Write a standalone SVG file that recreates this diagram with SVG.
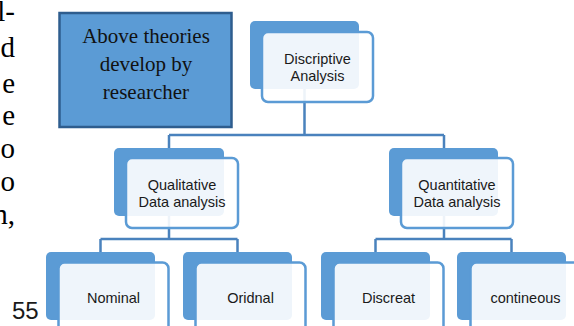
<svg xmlns="http://www.w3.org/2000/svg" width="574" height="326" viewBox="0 0 574 326">
  <style>
    .para { font-family: "Liberation Serif", "Times New Roman", serif; font-size: 29px; fill: #000; }
    .note { font-family: "Liberation Serif", "Times New Roman", serif; font-size: 21px; fill: #111; text-anchor: middle; }
    .lbl { font-family: "Liberation Sans", Arial, sans-serif; font-size: 14.5px; fill: #1a1a1a; text-anchor: middle; }
    .back { fill: #5b9bd5; }
    .front { fill: #ffffff; fill-opacity: 0.9; stroke: #5b9bd5; stroke-width: 2.5; }
    .conn { fill: none; stroke: #4a82bd; stroke-width: 2.5; }
  </style>

  <rect width="574" height="326" fill="#ffffff"/>

  <!-- right-hand edge of the surrounding paragraph -->
  <g id="paragraph" class="para" text-anchor="end">
    <text x="15" y="21">l-</text>
    <text x="15" y="57">d</text>
    <text x="15" y="93">e</text>
    <text x="15" y="125">e</text>
    <text x="15" y="158">o</text>
    <text x="15" y="191">o</text>
    <text x="15" y="224">n,</text>
  </g>
  <text id="page-number" x="12" y="319" font-family="'Liberation Sans', Arial, sans-serif" font-size="24" fill="#1a1a1a">55</text>

  <!-- callout box -->
  <g id="note">
    <rect x="59.5" y="13" width="172" height="114" fill="#5b9bd5" stroke="#2e5d8e" stroke-width="2.5"/>
    <text class="note" x="146" y="43">Above theories</text>
    <text class="note" x="146" y="71">develop by</text>
    <text class="note" x="146" y="99">researcher</text>
  </g>

  <!-- connectors (drawn first so node cards sit over them) -->
  <g id="connectors" class="conn">
    <path d="M304.5 89 V135 M169 135 H444 M169 135 V148 M444 135 V148"/>
    <path d="M169 216 V239 M100.5 239 H237.5 M100.5 239 V252 M237.5 239 V252"/>
    <path d="M444 216 V239 M375.5 239 H511.5 M375.5 239 V252 M511.5 239 V252"/>
  </g>

  <!-- level 1 -->
  <g id="descriptive">
    <rect class="back" x="250" y="21" width="109" height="68" rx="5"/>
    <rect class="front" x="262" y="32" width="111" height="70" rx="6"/>
    <text class="lbl" x="317.5" y="64">Discriptive</text>
    <text class="lbl" x="317.5" y="81">Analysis</text>
  </g>

  <!-- level 2 -->
  <g id="qualitative">
    <rect class="back" x="114" y="148" width="110" height="68" rx="5"/>
    <rect class="front" x="126" y="158" width="112" height="70" rx="6"/>
    <text class="lbl" x="182" y="190">Qualitative</text>
    <text class="lbl" x="182" y="207">Data analysis</text>
  </g>
  <g id="quantitative">
    <rect class="back" x="389" y="148" width="109" height="68" rx="5"/>
    <rect class="front" x="401" y="158" width="112" height="70" rx="6"/>
    <text class="lbl" x="457" y="190">Quantitative</text>
    <text class="lbl" x="457" y="207">Data analysis</text>
  </g>

  <!-- level 3 -->
  <g id="nominal">
    <rect class="back" x="46" y="252" width="109" height="68" rx="5"/>
    <rect class="front" x="58.5" y="262.5" width="110" height="70" rx="6"/>
    <text class="lbl" x="113.5" y="303">Nominal</text>
  </g>
  <g id="ordinal">
    <rect class="back" x="183" y="252" width="109" height="68" rx="5"/>
    <rect class="front" x="195.5" y="262.5" width="110" height="70" rx="6"/>
    <text class="lbl" x="250.5" y="303">Oridnal</text>
  </g>
  <g id="discrete">
    <rect class="back" x="321" y="252" width="109" height="68" rx="5"/>
    <rect class="front" x="333.5" y="262.5" width="110" height="70" rx="6"/>
    <text class="lbl" x="388.5" y="303">Discreat</text>
  </g>
  <g id="continuous">
    <rect class="back" x="457" y="252" width="109" height="68" rx="5"/>
    <rect class="front" x="470.5" y="262.5" width="110" height="70" rx="6"/>
    <text class="lbl" x="525.5" y="303">contineous</text>
  </g>
</svg>
